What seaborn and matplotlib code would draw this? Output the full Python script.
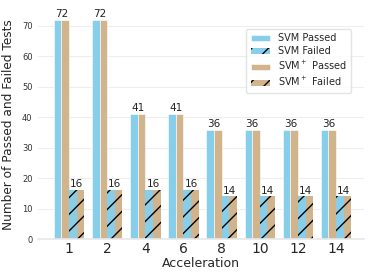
import numpy as np
import pandas as pd
import matplotlib
matplotlib.use("Agg")
import matplotlib.pyplot as plt
import matplotlib.patches as mpatches
import seaborn as sns

accel = ["1", "2", "4", "6", "8", "10", "12", "14"]
svm_passed = [72, 72, 41, 41, 36, 36, 36, 36]
svm_failed = [16, 16, 16, 16, 14, 14, 14, 14]
svmp_passed = [72, 72, 41, 41, 36, 36, 36, 36]
svmp_failed = [16, 16, 16, 16, 14, 14, 14, 14]

series = ["SVM Passed", "SVM$^+$ Passed", "SVM Failed", "SVM$^+$ Failed"]
rows = []
for i, a in enumerate(accel):
    rows.append((a, series[0], svm_passed[i]))
    rows.append((a, series[1], svmp_passed[i]))
    rows.append((a, series[2], svm_failed[i]))
    rows.append((a, series[3], svmp_failed[i]))
df = pd.DataFrame(rows, columns=["Acceleration", "Series", "Count"])

sns.set_theme(style="whitegrid")
plt.rcParams['font.family'] = ['DejaVu Sans']
plt.rcParams['hatch.linewidth'] = 1.0

fig, ax = plt.subplots(figsize=(3.74, 2.8), dpi=100)
blue = "#87CEEB"
tan = "#D2B48C"
sns.barplot(data=df, x="Acceleration", y="Count", hue="Series", hue_order=series,
            order=accel, palette=[blue, tan, blue, tan], width=0.8, ax=ax,
            saturation=1, linewidth=0, edgecolor="black", legend=False)

for c in ax.containers[2:]:
    for p in c:
        p.set_hatch("//")
        p.set_edgecolor("black")
        p.set_linewidth(0)
for c in ax.containers[:2]:
    for p in c:
        p.set_edgecolor("white")
        p.set_linewidth(0.4)

xs = np.arange(len(accel))
for i in xs:
    ax.text(i - 0.2, svm_passed[i] + 0.3, str(svm_passed[i]), ha="center", va="bottom", fontsize=7.5, color="#222222")
    ax.text(i + 0.2, svm_failed[i] + 0.3, str(svm_failed[i]), ha="center", va="bottom", fontsize=7.5, color="#222222")

handles = [
    mpatches.Patch(facecolor=blue, edgecolor="white", linewidth=0.4, label=series[0]),
    mpatches.Patch(facecolor=blue, edgecolor="black", linewidth=0, hatch="//", label=series[2]),
    mpatches.Patch(facecolor=tan, edgecolor="white", linewidth=0.4, label=series[1]),
    mpatches.Patch(facecolor=tan, edgecolor="black", linewidth=0, hatch="//", label=series[3]),
]
leg = ax.legend(handles=handles, loc="upper right", bbox_to_anchor=(0.975, 0.935), fontsize=7,
                frameon=True, handlelength=2.0, borderpad=0.45, labelspacing=0.3)
leg.get_frame().set_edgecolor("#dddddd")

ax.set_ylim(0, 75.5)
ax.set_xlim(-0.81, 7.73)
ax.set_yticks(range(0, 71, 10))
ax.tick_params(length=0)
ax.tick_params(axis="y", labelsize=6, colors="#333333", pad=4)
ax.tick_params(axis="x", labelsize=10, pad=2)
ax.set_xlabel("Acceleration", fontsize=9, labelpad=1)
ax.set_ylabel("Number of Passed and Failed Tests", fontsize=8.7, labelpad=5)
ax.grid(axis="x", visible=False)
ax.grid(axis="y", color="#eeeeee", linewidth=0.8)
for s in ["left", "right", "top"]:
    ax.spines[s].set_visible(False)
ax.spines["bottom"].set_color("#e8e8e8")
ax.spines["bottom"].set_linewidth(1.2)

fig.subplots_adjust(left=0.102, right=0.973, top=0.967, bottom=0.146)
fig.savefig("out.png", dpi=100)
